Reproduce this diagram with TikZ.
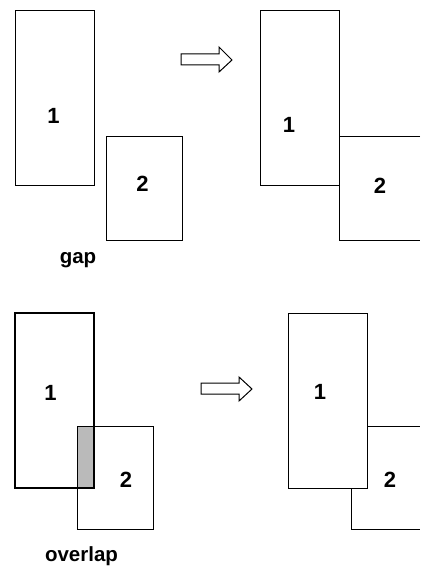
\documentclass[tikz,border=0pt]{standalone}
\usepackage{fontspec}
\setmainfont{Liberation Sans}
\begin{document}
\begin{tikzpicture}[x=1bp,y=-1bp,
  box/.style={draw=black,line width=1bp},
  thickbox/.style={draw=black,line width=1.8bp},
  shiftarrow/.style={draw=black,line width=1bp,fill=white,line join=miter},
  digit/.style={anchor=base,inner sep=0pt,font=\fontsize{22bp}{22bp}\selectfont\bfseries},
  caption/.style={anchor=base,inner sep=0pt,font=\fontsize{20.5bp}{20.5bp}\selectfont\bfseries}]
\useasboundingbox (0,0) rectangle (420,566);

% ---- gap, before ----
\draw[box] (15,11) rectangle (94,185);
\draw[box] (106,137) rectangle (182,240);
\node[digit] (g1) at (53.5,124) {1};
\node[digit] (g2) at (142.5,191) {2};
\node[caption] (gaplabel) at (78,263.5) {gap};

% ---- gap, after ----
\draw[shiftarrow] (181,54) -- (219,54) -- (219,47) -- (232,60) -- (219,72) -- (219,65) -- (181,65) -- cycle;
\draw[box] (260,11) rectangle (339,185);
\draw[box] (420,137) -- (339,137) -- (339,240) -- (420,240);
\node[digit] (h1) at (289,133) {1};
\node[digit] (h2) at (380,193) {2};

% ---- overlap, before ----
\fill[black!27] (77,426) rectangle (94,488);
\draw[box] (77,426) rectangle (153,529);
\draw[thickbox] (15,313) rectangle (94,488);
\node[digit] (o1) at (50.5,400) {1};
\node[digit] (o2) at (126,487) {2};
\node[caption] (overlaplabel) at (81.5,561) {overlap};

% ---- overlap, after ----
\draw[shiftarrow] (201,383) -- (239,383) -- (239,377) -- (252,389) -- (239,401) -- (239,394) -- (201,394) -- cycle;
\draw[box] (288,313) rectangle (367,488);
\draw[box] (367,426) -- (420,426);
\draw[box] (351,488) -- (351,529) -- (420,529);
\node[digit] (p1) at (320,399) {1};
\node[digit] (p2) at (390,487) {2};
\end{tikzpicture}
\end{document}
